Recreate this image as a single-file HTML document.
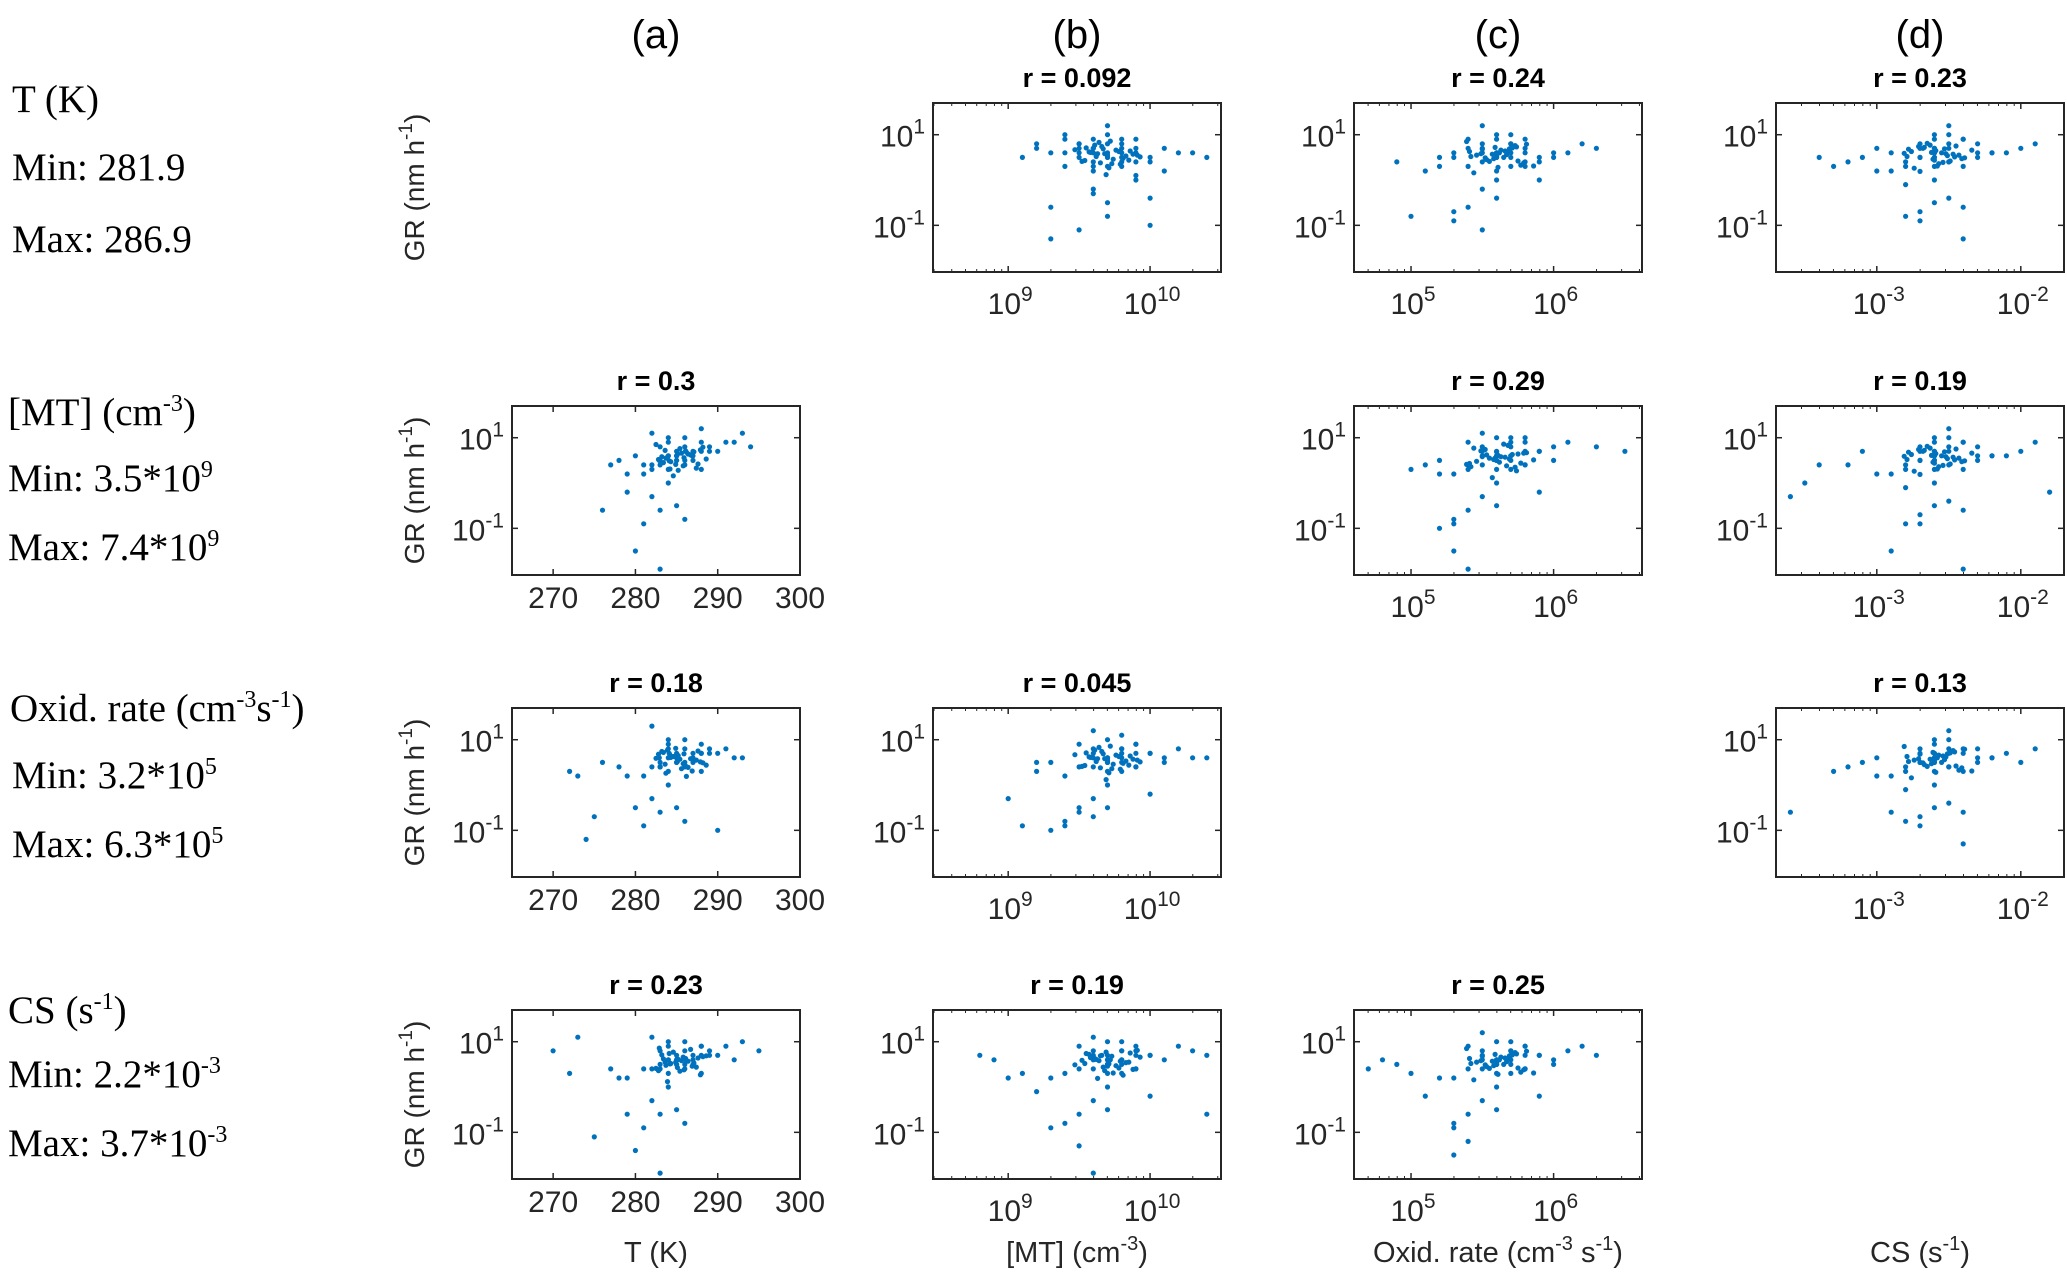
<!DOCTYPE html>
<html><head><meta charset="utf-8">
<style>
html,body{margin:0;padding:0;background:#fff;}
svg{display:block;}
.tk{font-family:"Liberation Sans",sans-serif;font-size:30px;fill:#262626;}
.ti{font-family:"Liberation Sans",sans-serif;font-size:27px;font-weight:bold;fill:#000;}
.cl{font-family:"Liberation Sans",sans-serif;font-size:40px;fill:#000;}
</style></head>
<body>
<svg id="fig" width="2067" height="1284" viewBox="0 0 2067 1284" xmlns="http://www.w3.org/2000/svg"></svg>
<script>
// ---- data (x for log axes stored as log10 value; y stored as log10 GR) ----
const colLabels = ["(a)","(b)","(c)","(d)"];
const rTitles = ["r = 0.092","r = 0.24","r = 0.23","r = 0.3","r = 0.29","r = 0.19","r = 0.18","r = 0.045","r = 0.13","r = 0.23","r = 0.19","r = 0.25"];
const panelRows = [0,0,0,1,1,1,2,2,2,3,3,3];
const panelCols = [1,2,3,0,2,3,0,1,3,0,1,2];
const xTicksA = [270,280,290,300];
const xTicksB = [9,10];
const xTicksC = [5,6];
const xTicksD = [-3,-2];
const yTicks = [1,-1];

const x1=[9.7,9.5,9.8,9.9,9.6,9.4,10.0,9.7,9.3,9.8,10.1,9.6,9.2,9.9,9.5,10.2,9.7,9.4,9.8,10.0,9.1,9.6,10.3,9.7,9.5,9.9,10.4,9.3,9.8,9.6,9.7,9.4,10.0,9.2,9.9,9.6,9.8,9.5,10.1,9.7,9.3,9.6,9.8,9.9,9.5,9.7,9.6,9.4,10.0,9.8,9.7,9.6,9.5,9.9,9.7,9.6];
const y1=[0.6,0.8,0.4,0.7,0.2,0.9,0.5,1.0,0.6,0.3,0.7,-0.2,0.8,0.0,0.5,0.6,1.2,0.3,0.9,-0.4,0.5,0.7,0.6,-0.8,-1.1,0.4,0.5,-0.6,0.8,0.6,0.3,1.0,-1.0,0.7,0.9,-0.3,0.5,0.6,0.2,0.8,-1.3,0.4,0.6,0.1,0.7,0.5,0.9,0.6,0.4,0.7,-0.5,0.3,0.8,0.6,0.5,0.7];
const x2=[5.6,5.5,5.7,5.4,5.8,5.6,5.3,5.9,5.5,5.7,5.6,5.2,6.0,5.4,5.8,5.6,5.1,5.7,6.1,5.5,5.6,4.9,5.8,5.3,5.7,6.2,5.5,5.6,5.4,5.9,5.0,5.6,5.7,5.3,5.8,6.3,5.5,5.6,5.2,5.7,5.4,5.9,5.6,5.5,5.8,5.3,5.6,5.7,6.0,5.5];
const y2=[0.6,0.8,0.5,0.3,0.7,1.0,0.6,0.4,-0.2,0.7,0.9,0.5,0.6,-0.6,0.3,0.5,0.2,0.8,0.6,1.2,0.0,0.4,0.9,-0.9,0.6,0.8,0.4,-0.4,0.7,0.5,-0.8,0.2,1.0,0.5,0.6,0.7,-1.1,0.6,0.3,0.8,0.9,0.0,0.5,0.7,0.4,-0.7,0.6,0.3,0.5,0.6];
const x3=[-2.6,-2.5,-2.7,-2.4,-2.8,-2.6,-2.3,-2.9,-2.5,-2.7,-2.6,-3.1,-2.2,-2.4,-2.8,-2.6,-3.3,-2.7,-2.1,-2.5,-2.6,-3.0,-2.4,-2.8,-2.6,-1.9,-2.5,-2.6,-3.4,-2.3,-2.7,-2.6,-2.5,-2.9,-2.0,-2.6,-2.4,-2.7,-3.2,-2.5,-2.6,-2.8,-2.3,-2.6,-2.5,-2.7,-3.0,-2.4,-2.6,-2.2];
const y3=[0.6,0.7,0.5,0.9,0.3,0.6,0.8,0.2,-0.4,0.7,1.0,0.5,0.6,-0.6,0.4,0.5,0.3,0.8,0.6,1.2,0.0,0.7,0.9,-0.8,0.6,0.8,0.4,-0.5,0.5,0.6,-0.7,0.3,1.0,0.6,0.7,0.7,-1.3,0.5,0.4,0.8,0.9,-0.1,0.5,0.7,0.4,-0.9,0.2,0.3,0.5,0.6];
const x4=[284,283,286,281,288,285,279,290,282,287,284,278,292,283,286,285,277,289,294,282,284,280,288,281,287,291,283,285,282,289,276,284,286,280,288,293,283,285,281,286,284,279,287,285,282,286,284,288,283,285];
const y4=[0.6,0.8,0.5,0.4,0.9,0.6,0.2,0.7,-0.3,0.7,1.0,0.5,0.9,-0.6,0.4,0.5,0.4,0.8,0.8,1.1,0.0,0.6,1.2,-0.9,0.6,0.9,0.4,-0.5,0.3,0.7,-0.6,0.3,1.0,-1.5,0.7,1.1,-1.9,0.5,0.2,0.8,0.9,-0.2,0.5,0.7,0.4,-0.8,0.6,0.3,0.5,0.6];
const x5=[5.6,5.5,5.7,5.4,5.8,5.6,5.3,5.9,5.5,5.7,5.6,5.2,6.0,5.4,5.8,5.6,5.1,5.7,6.3,5.5,5.6,5.0,5.8,5.3,5.7,6.5,5.5,5.6,5.4,5.9,5.2,5.6,5.7,5.3,5.8,6.1,5.4,5.6,5.2,5.7,5.4,5.9,5.6,5.5,5.8,5.3,5.6,5.7,6.0,5.5];
const y5=[0.7,0.8,0.5,0.4,0.9,0.6,0.2,0.7,-0.3,0.6,1.0,0.5,0.8,-0.6,0.4,0.5,0.4,0.9,0.8,1.1,0.0,0.3,1.0,-0.9,0.6,0.7,0.4,-0.5,0.3,0.7,-1.0,0.3,1.0,-1.5,0.7,0.9,-1.9,0.5,0.2,0.8,0.9,-0.2,0.5,0.7,0.4,-0.8,0.6,0.3,0.5,0.6];
const x6=[-2.6,-2.5,-2.7,-2.4,-2.8,-2.6,-2.3,-2.9,-2.5,-2.7,-2.6,-3.4,-2.2,-2.4,-2.8,-2.6,-3.5,-2.7,-2.1,-2.5,-2.6,-3.1,-2.4,-2.8,-2.6,-1.9,-2.5,-2.6,-3.6,-2.3,-2.7,-2.6,-2.5,-2.9,-2.0,-2.6,-2.4,-2.7,-3.2,-2.5,-2.6,-2.8,-2.3,-2.6,-1.8,-2.7,-3.0,-2.4,-2.6,-2.2];
const y6=[0.6,0.7,0.5,0.9,0.3,0.6,0.8,0.2,-0.4,0.7,1.0,0.4,0.6,-0.6,0.4,0.5,0.0,0.8,0.6,1.2,0.0,0.7,0.9,-0.9,0.6,0.9,0.4,-0.5,-0.3,0.6,-0.7,0.3,1.0,-1.5,0.7,0.7,-1.9,0.5,0.4,0.8,0.9,-0.1,0.5,0.7,-0.2,-0.9,0.2,0.3,0.5,0.6];
const x7=[285,284,286,283,288,285,281,290,282,287,284,276,292,283,286,285,273,289,293,282,284,278,288,281,287,291,283,285,275,289,272,284,286,280,288,290,283,285,279,286,284,274,287,285,282,286,284,288,283,285];
const y7=[0.6,0.8,0.5,0.4,0.7,0.6,0.2,0.7,-0.3,0.7,1.0,0.5,0.6,-0.6,0.4,0.5,0.2,0.8,0.6,1.3,0.0,0.4,0.9,-0.9,0.6,0.8,0.4,-0.5,-0.7,0.7,0.3,0.3,1.0,-0.5,0.7,-1.0,0.4,0.5,0.2,0.8,0.9,-1.2,0.5,0.7,0.4,-0.8,0.6,0.3,0.5,0.6];
const x8=[9.7,9.6,9.8,9.5,9.9,9.7,9.4,10.0,9.6,9.8,9.7,9.2,10.1,9.5,9.9,9.7,9.0,9.8,10.4,9.6,9.7,9.3,9.9,9.4,9.8,10.2,9.6,9.7,9.1,10.0,9.3,9.7,9.8,9.5,9.9,10.3,9.6,9.7,9.2,9.8,9.5,10.0,9.7,9.6,9.9,9.4,9.7,9.8,10.1,9.6];
const y8=[0.6,0.8,0.5,0.4,0.9,0.6,0.2,0.7,-0.3,0.7,1.0,0.5,0.6,-0.6,0.4,0.5,-0.3,0.8,0.6,1.2,0.0,0.5,0.9,-0.9,0.6,0.8,0.4,-0.5,-0.9,0.7,-1.0,0.3,1.1,-0.5,0.7,0.6,-0.7,0.5,0.3,0.8,0.9,-0.2,0.5,0.7,0.4,-0.8,0.6,0.3,0.5,0.6];
const x9=[-2.6,-2.5,-2.7,-2.4,-2.8,-2.6,-2.3,-2.9,-2.5,-2.7,-2.6,-3.1,-2.2,-2.4,-2.8,-2.6,-3.3,-2.7,-2.0,-2.5,-2.6,-3.0,-2.4,-2.8,-2.6,-1.9,-2.5,-2.6,-3.6,-2.3,-2.7,-2.6,-2.5,-2.9,-2.1,-2.6,-2.4,-2.7,-3.2,-2.5,-2.6,-2.8,-2.3,-2.6,-2.5,-2.7,-3.0,-2.4,-2.6,-2.2];
const y9=[0.6,0.7,0.5,0.8,0.3,0.6,0.8,0.2,-0.4,0.7,1.0,0.5,0.6,-0.6,0.4,0.5,0.3,0.8,0.5,1.2,0.0,0.6,0.7,-0.8,0.6,0.8,0.4,-0.5,-0.6,0.6,-0.7,0.3,1.0,-0.6,0.7,0.7,-1.3,0.5,0.4,0.8,0.9,-0.1,0.5,0.7,0.4,-0.9,0.2,0.3,0.5,0.6];
const x10=[284,283,286,281,288,285,279,290,282,287,284,273,292,283,286,285,270,289,295,282,284,277,288,281,287,291,283,285,275,289,272,284,286,280,288,293,283,285,278,286,284,279,287,285,282,286,284,288,283,285];
const y10=[0.6,0.8,0.5,0.4,0.9,0.6,0.2,0.7,-0.3,0.7,1.0,1.1,0.6,-0.6,0.4,0.5,0.8,0.8,0.8,1.1,0.0,0.4,0.9,-0.9,0.6,0.9,0.4,-0.5,-1.1,0.7,0.3,0.3,1.0,-1.4,0.7,1.0,-1.9,0.5,0.2,0.8,0.9,-0.6,0.5,0.7,0.4,-0.8,0.6,0.3,0.5,0.6];
const x11=[9.7,9.6,9.8,9.5,9.9,9.7,9.4,10.0,9.6,9.8,9.7,8.9,10.1,9.5,9.9,9.7,8.8,9.8,10.4,9.6,9.7,9.1,9.9,9.3,9.8,10.2,9.6,9.7,9.2,10.0,9.0,9.7,9.8,9.5,9.9,10.4,9.6,9.7,9.3,9.8,9.5,10.0,9.7,9.6,9.9,9.4,9.7,9.8,10.3,9.6];
const y11=[0.7,0.8,0.5,0.4,0.8,0.6,0.3,0.7,-0.3,0.6,1.0,0.6,0.6,-0.6,0.4,0.5,0.7,0.8,0.7,1.1,0.0,0.3,0.9,-0.9,0.6,0.9,0.4,-0.5,-0.1,0.7,0.2,0.3,1.0,-1.3,0.7,-0.6,-1.9,0.5,0.2,0.8,0.9,-0.2,0.5,0.7,0.4,-0.8,0.6,0.3,0.8,0.6];
const x12=[5.6,5.5,5.7,5.4,5.8,5.6,5.3,5.9,5.5,5.7,5.6,4.8,6.0,5.4,5.8,5.6,4.7,5.7,6.3,5.5,5.6,5.0,5.8,5.3,5.7,6.1,5.5,5.6,5.1,5.9,4.9,5.6,5.7,5.3,5.8,6.2,5.4,5.6,5.2,5.7,5.4,5.9,5.6,5.5,5.8,5.3,5.6,5.7,6.0,5.5];
const y12=[0.6,0.8,0.5,0.4,0.9,0.6,0.2,0.7,-0.3,0.7,1.0,0.6,0.6,-0.6,0.4,0.5,0.4,0.8,0.7,1.2,0.0,0.3,0.9,-0.9,0.6,0.8,0.4,-0.5,-0.2,0.7,0.5,0.3,1.0,-1.5,0.7,0.9,-1.2,0.5,0.2,0.8,0.9,-0.2,0.5,0.7,0.4,-0.8,0.6,0.3,0.5,0.6];
// dense-core points per column type
const xCoreA=[284.3,286.1,283.2,287.4,285.6,282.8,288.2,284.9,286.7,283.7,285.2,287.9,284.1,286.4,282.5,285.8,283.9,287.1,284.6,286.9,283.4,285.4,288.6,284.2,286.2,282.9,285.1,287.6,283.6,285.9];
const xCoreB=[9.62,9.78,9.55,9.85,9.68,9.73,9.47,9.91,9.64,9.81,9.58,9.71,9.66,9.88,9.52,9.76,9.69,9.83,9.61,9.74,9.57,9.79,9.67,9.93,9.63,9.72,9.54,9.86,9.7,9.65];
const xCoreC=[5.58,5.71,5.49,5.77,5.63,5.42,5.81,5.55,5.68,5.46,5.61,5.74,5.52,5.66,5.39,5.79,5.57,5.69,5.44,5.62,5.53,5.73,5.6,5.86,5.5,5.65,5.41,5.75,5.59,5.67];
const xCoreD=[-2.62,-2.49,-2.71,-2.43,-2.57,-2.78,-2.39,-2.65,-2.52,-2.74,-2.59,-2.46,-2.68,-2.54,-2.81,-2.41,-2.63,-2.51,-2.76,-2.58,-2.67,-2.47,-2.6,-2.34,-2.7,-2.55,-2.79,-2.45,-2.61,-2.53];
const yCore1=[0.52,0.63,0.71,0.44,0.58,0.36,0.67,0.55,0.83,0.48,0.61,0.27,0.74,0.57,0.41,0.66,0.12,0.53,0.77,0.46,0.62,0.35,0.69,0.51,0.58,0.86,0.43,0.64,0.55,0.38];
const yCore2=[0.47,0.71,0.58,0.33,0.66,0.52,0.79,0.41,0.62,0.55,0.28,0.73,0.49,0.64,0.85,0.38,0.57,0.69,0.16,0.6,0.45,0.76,0.53,0.31,0.68,0.5,0.63,0.42,0.72,0.56];
const yCore3=[0.61,0.42,0.74,0.55,0.36,0.68,0.49,0.81,0.58,0.26,0.65,0.51,0.7,0.39,0.59,0.47,0.77,0.54,0.63,0.31,0.72,0.57,0.44,0.66,0.19,0.6,0.52,0.75,0.46,0.69];
const panelX=[x1,x2,x3,x4,x5,x6,x7,x8,x9,x10,x11,x12];
const panelY=[y1,y2,y3,y4,y5,y6,y7,y8,y9,y10,y11,y12];
const coreX=[xCoreA,xCoreB,xCoreC,xCoreD];
const coreY=[yCore1,yCore2,yCore3,yCore2,yCore1,yCore3,yCore3,yCore1,yCore2,yCore1,yCore3,yCore2];

// ---- layout ----
const NS="http://www.w3.org/2000/svg";
const svg=document.getElementById('fig');
const colLeft=[512,933,1354,1776], rowTop=[103,406,708,1010], W=288, H=169;
const xDom=[[265,300],[8.47,10.5],[4.6,6.62],[-3.7,-1.7]];
const xLog=[false,true,true,true];
const xTickSets=[xTicksA,xTicksB,xTicksC,xTicksD];
const yDom=[-2.03,1.7];
function mk(tag,attrs,parent){const e=document.createElementNS(NS,tag);for(const k in attrs)e.setAttribute(k,attrs[k]);(parent||svg).appendChild(e);return e;}
function xs(c,v){const d=xDom[c];return colLeft[c]+(v-d[0])/(d[1]-d[0])*W;}
function ys(r,v){return rowTop[r]+H-(v-yDom[0])/(yDom[1]-yDom[0])*H;}
function pow10(parent,x,y,exp,anchor){
  const t=mk('text',{x:x,y:y,'text-anchor':anchor,class:'tk'},parent);
  
  
  t.appendChild(document.createTextNode('10'));
  const s=mk('tspan',{dy:-13},t);s.style.fontSize='21px';s.textContent=exp;
  return t;
}
function dot(g,cx,cy){
  const d=mk('circle',{cx:cx.toFixed(1),cy:cy.toFixed(1),r:2.6,fill:'#0072BD'},g);
  
  
}

colLabels.forEach((l,c)=>{
  const t=mk('text',{x:colLeft[c]+W/2,y:48,'text-anchor':'middle',class:'cl'});
  
  
  t.textContent=l;
});

for(let p=0;p<panelRows.length;p++){
  const r=panelRows[p], c=panelCols[p];
  const g=mk('g',{});
  
  
  const L=colLeft[c], T=rowTop[r];
  const tt=mk('text',{x:L+W/2,y:T-16,'text-anchor':'middle',class:'ti'},g);
  
  
  tt.textContent=rTitles[p];
  const X=panelX[p], Y=panelY[p], n=Math.min(X.length,Y.length);
  for(let i=0;i<n;i++) dot(g,xs(c,X[i]),ys(r,Y[i]));
  const CX=coreX[c], CY=coreY[p], m=Math.min(CX.length,CY.length);
  for(let i=0;i<m;i++) dot(g,xs(c,CX[i]),ys(r,CY[i]));
  const b=mk('rect',{x:L,y:T,width:W,height:H,fill:'none',stroke:'#262626','stroke-width':2},g);
  
  
  xTickSets[c].forEach(v=>{
    const x=xs(c,v);
    mk('line',{x1:x,y1:T+H,x2:x,y2:T+H-6,stroke:'#262626','stroke-width':1.5},g);
    mk('line',{x1:x,y1:T,x2:x,y2:T+6,stroke:'#262626','stroke-width':1.5},g);
    if(xLog[c]){pow10(g,x+2,T+H+42,String(v),'middle');}
    else{const t=mk('text',{x:x,y:T+H+33,'text-anchor':'middle',class:'tk'},g);
      
      
      t.textContent=v;}
  });
  if(xLog[c]){
    for(let e=Math.floor(xDom[c][0]);e<xDom[c][1];e++){
      for(let k=2;k<10;k++){const v=e+Math.log10(k);if(v<=xDom[c][0]||v>=xDom[c][1])continue;
        const x=xs(c,v);
        mk('line',{x1:x,y1:T+H,x2:x,y2:T+H-3,stroke:'#262626','stroke-width':1},g);
        mk('line',{x1:x,y1:T,x2:x,y2:T+3,stroke:'#262626','stroke-width':1},g);}
    }
  }
  yTicks.forEach(v=>{
    const y=ys(r,v);
    mk('line',{x1:L,y1:y,x2:L+6,y2:y,stroke:'#262626','stroke-width':1.5},g);
    mk('line',{x1:L+W,y1:y,x2:L+W-6,y2:y,stroke:'#262626','stroke-width':1.5},g);
    pow10(g,L-8,y+12,String(v),'end');
  });
}

for(let r=0;r<4;r++){
  const cx=424, cy=rowTop[r]+H/2;
  const t=mk('text',{x:cx,y:cy,'text-anchor':'middle',class:'tk',transform:`rotate(-90 ${cx} ${cy})`});
  
  
  t.style.fontSize='28px';
  t.appendChild(document.createTextNode('GR (nm h'));
  const s=mk('tspan',{dy:-12},t);s.style.fontSize='19px';s.textContent='-1';
  const s2=mk('tspan',{dy:12},t);s2.textContent=')';
}

const xTitles=[[['T (K)',null]],[['[MT] (cm','-3'],[')',null]],[['Oxid. rate (cm','-3'],[' s','-1'],[')',null]],[['CS (s','-1'],[')',null]]];
xTitles.forEach((parts,c)=>{
  const t=mk('text',{x:colLeft[c]+W/2,y:1262,'text-anchor':'middle',class:'tk'});
  
  
  t.style.fontSize='29px';
  let raised=false;
  parts.forEach(([txt,sup])=>{
    const a=mk('tspan',{dy:raised?12:0},t);a.textContent=txt;raised=false;
    if(sup){const s=mk('tspan',{dy:-12},t);s.style.fontSize='20px';s.textContent=sup;raised=true;}
  });
});
</script>

<div style="position:absolute;left:0;top:0;width:420px;height:1284px;font-family:'Liberation Serif',serif;font-size:39px;color:#000;line-height:1.15;">
  <div style="position:absolute;left:12px;top:78px">T (K)</div>
  <div style="position:absolute;left:12px;top:146px">Min: 281.9</div>
  <div style="position:absolute;left:12px;top:218px">Max: 286.9</div>
  <div style="position:absolute;left:8px;top:391px">[MT] (cm<sup style="font-size:24px">-3</sup>)</div>
  <div style="position:absolute;left:8px;top:457px">Min: 3.5*10<sup style="font-size:24px">9</sup></div>
  <div style="position:absolute;left:8px;top:526px">Max: 7.4*10<sup style="font-size:24px">9</sup></div>
  <div style="position:absolute;left:10px;top:687px">Oxid. rate (cm<sup style="font-size:24px">-3</sup>s<sup style="font-size:24px">-1</sup>)</div>
  <div style="position:absolute;left:12px;top:754px">Min: 3.2*10<sup style="font-size:24px">5</sup></div>
  <div style="position:absolute;left:12px;top:823px">Max: 6.3*10<sup style="font-size:24px">5</sup></div>
  <div style="position:absolute;left:8px;top:989px">CS (s<sup style="font-size:24px">-1</sup>)</div>
  <div style="position:absolute;left:8px;top:1053px">Min: 2.2*10<sup style="font-size:24px">-3</sup></div>
  <div style="position:absolute;left:8px;top:1122px">Max: 3.7*10<sup style="font-size:24px">-3</sup></div>
</div>
</body></html>
